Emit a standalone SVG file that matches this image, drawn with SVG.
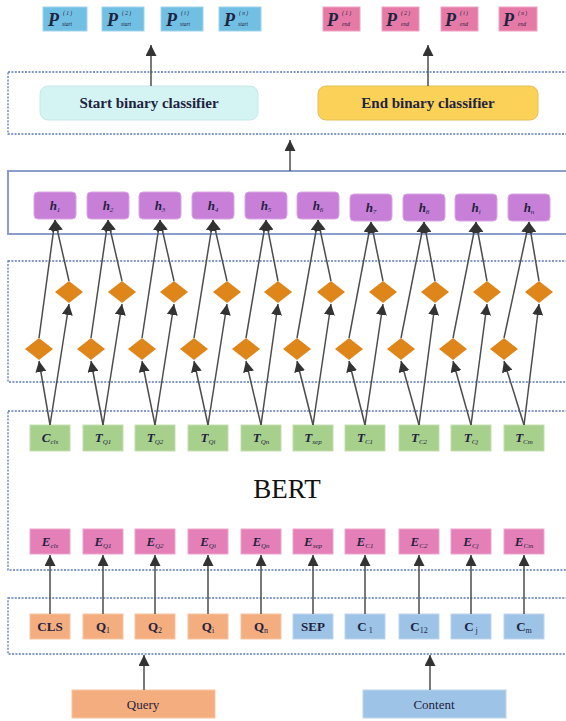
<svg xmlns="http://www.w3.org/2000/svg" width="566" height="721" viewBox="0 0 566 721">
  <style>
    .band { fill: none; stroke: #5a78b8; stroke-width: 1.3; stroke-dasharray: 2 1.4; }
    .bandSolid { fill: none; stroke: #8a9dcb; stroke-width: 2; }
    .pStart { fill: #72bfe4; stroke: #9fd3ec; stroke-width: 1; }
    .pEnd { fill: #e57aa6; stroke: #eea2c2; stroke-width: 1; }
    .hBox { fill: #c77fd8; stroke: #d9a6e4; stroke-width: 1; }
    .tBox { fill: #a7d08c; stroke: #c2dfae; stroke-width: 1; }
    .eBox { fill: #e57fb8; stroke: #eda5cc; stroke-width: 1; }
    .qBox { fill: #f4ad7e; stroke: #f6c4a2; stroke-width: 1; }
    .cBox { fill: #9dc3e6; stroke: #bcd6ee; stroke-width: 1; }
    .dia { fill: #df861a; }
    .lbl { font-family: "Liberation Serif", "Times New Roman", serif; fill: #1f2340; }
    .it { font-style: italic; font-weight: bold; font-size: 13px; }
    .sub { font-style: italic; font-size: 7px; font-weight: normal; }
    .pl { font-style: italic; font-weight: bold; font-size: 18px; }
    .tiny { font-style: italic; font-size: 5.5px; }
    .cls { font-weight: bold; font-size: 15px; }
    .inp { font-weight: bold; font-size: 13px; }
    .nsub { font-size: 8px; font-weight: normal; }
    .src { font-size: 13px; }
    .bert { font-family: "Liberation Serif", "Times New Roman", serif; font-size: 27px; fill: #111; }
    .wire { stroke: #4d4d4d; stroke-width: 1.5; fill: none; marker-end: url(#head); }
  </style>
  <defs>
    <marker id="head" markerUnits="userSpaceOnUse" markerWidth="11" markerHeight="11" viewBox="0 0 10 10" refX="10" refY="5" orient="auto">
      <path d="M0,0 L10,5 L0,10 z" fill="#333"/>
    </marker>
  </defs>

  <!-- layer frames -->
  <g id="frames">
    <rect class="band" x="8" y="72" width="570" height="62"/>
    <rect class="bandSolid" x="8" y="171" width="570" height="63"/>
    <rect class="band" x="8" y="261" width="570" height="121"/>
    <rect class="band" x="8" y="411" width="570" height="159"/>
    <rect class="band" x="8" y="598" width="570" height="56"/>
  </g>

  <!-- start probabilities -->
  <g id="p-start">
    <rect class="pStart" x="43" y="7" width="44" height="24"/>
    <rect class="pStart" x="102" y="7" width="42" height="24"/>
    <rect class="pStart" x="161" y="7" width="42" height="24"/>
    <rect class="pStart" x="219" y="7" width="42" height="24"/>
    <g class="lbl">
      <text class="pl" x="48" y="26">P</text><text class="tiny" x="63" y="15">( 1 )</text><text class="tiny" x="62" y="26">start</text>
      <text class="pl" x="107" y="26">P</text><text class="tiny" x="122" y="15">( 2 )</text><text class="tiny" x="121" y="26">start</text>
      <text class="pl" x="166" y="26">P</text><text class="tiny" x="181" y="15">( i )</text><text class="tiny" x="180" y="26">start</text>
      <text class="pl" x="224" y="26">P</text><text class="tiny" x="239" y="15">( n )</text><text class="tiny" x="238" y="26">start</text>
    </g>
  </g>

  <!-- end probabilities -->
  <g id="p-end">
    <rect class="pEnd" x="323" y="7" width="37" height="24"/>
    <rect class="pEnd" x="382" y="7" width="37" height="24"/>
    <rect class="pEnd" x="441" y="7" width="37" height="24"/>
    <rect class="pEnd" x="499" y="7" width="38" height="24"/>
    <g class="lbl">
      <text class="pl" x="327" y="26">P</text><text class="tiny" x="342" y="15">( 1 )</text><text class="tiny" x="342" y="26">end</text>
      <text class="pl" x="386" y="26">P</text><text class="tiny" x="401" y="15">( 2 )</text><text class="tiny" x="401" y="26">end</text>
      <text class="pl" x="445" y="26">P</text><text class="tiny" x="460" y="15">( i )</text><text class="tiny" x="460" y="26">end</text>
      <text class="pl" x="503" y="26">P</text><text class="tiny" x="518" y="15">( n )</text><text class="tiny" x="518" y="26">end</text>
    </g>
  </g>

  <!-- classifiers -->
  <g id="start-classifier">
    <rect x="40" y="86" width="218" height="34" rx="8" fill="#d4f3f3" stroke="#c6e8e8"/>
    <text class="lbl cls" x="149" y="108" text-anchor="middle">Start binary classifier</text>
  </g>
  <g id="end-classifier">
    <rect x="318" y="86" width="220" height="34" rx="8" fill="#fbd257" stroke="#e3bf55"/>
    <text class="lbl cls" x="428" y="108" text-anchor="middle">End binary classifier</text>
  </g>

  <!-- hidden states -->
  <g id="hidden">
    <rect class="hBox" x="34" y="192" width="42" height="27" rx="4"/>
    <rect class="hBox" x="87" y="192" width="42" height="27" rx="4"/>
    <rect class="hBox" x="139" y="192" width="42" height="27" rx="4"/>
    <rect class="hBox" x="192" y="192" width="42" height="27" rx="4"/>
    <rect class="hBox" x="245" y="192" width="42" height="27" rx="4"/>
    <rect class="hBox" x="297" y="192" width="42" height="27" rx="4"/>
    <rect class="hBox" x="350" y="194" width="42" height="27" rx="4"/>
    <rect class="hBox" x="403" y="194" width="42" height="27" rx="4"/>
    <rect class="hBox" x="455" y="194" width="42" height="27" rx="4"/>
    <rect class="hBox" x="508" y="194" width="42" height="27" rx="4"/>
    <g class="lbl" text-anchor="middle">
      <text x="55" y="210"><tspan class="it">h</tspan><tspan class="sub" dy="2">1</tspan></text>
      <text x="108" y="210"><tspan class="it">h</tspan><tspan class="sub" dy="2">2</tspan></text>
      <text x="160" y="210"><tspan class="it">h</tspan><tspan class="sub" dy="2">3</tspan></text>
      <text x="213" y="210"><tspan class="it">h</tspan><tspan class="sub" dy="2">4</tspan></text>
      <text x="266" y="210"><tspan class="it">h</tspan><tspan class="sub" dy="2">5</tspan></text>
      <text x="318" y="210"><tspan class="it">h</tspan><tspan class="sub" dy="2">6</tspan></text>
      <text x="371" y="212"><tspan class="it">h</tspan><tspan class="sub" dy="2">7</tspan></text>
      <text x="424" y="212"><tspan class="it">h</tspan><tspan class="sub" dy="2">8</tspan></text>
      <text x="476" y="212"><tspan class="it">h</tspan><tspan class="sub" dy="2">i</tspan></text>
      <text x="529" y="212"><tspan class="it">h</tspan><tspan class="sub" dy="2">n</tspan></text>
    </g>
  </g>

  <!-- recurrent cells -->
  <g id="cells">
    <g id="cells-backward">
      <path class="dia" d="M55,292 L69,281 L83,292 L69,303 z"/>
      <path class="dia" d="M108,292 L122,281 L136,292 L122,303 z"/>
      <path class="dia" d="M160,292 L174,281 L188,292 L174,303 z"/>
      <path class="dia" d="M213,292 L227,281 L241,292 L227,303 z"/>
      <path class="dia" d="M264,292 L278,281 L292,292 L278,303 z"/>
      <path class="dia" d="M317,292 L331,281 L345,292 L331,303 z"/>
      <path class="dia" d="M369,292 L383,281 L397,292 L383,303 z"/>
      <path class="dia" d="M421,292 L435,281 L449,292 L435,303 z"/>
      <path class="dia" d="M473,292 L487,281 L501,292 L487,303 z"/>
      <path class="dia" d="M525,292 L539,281 L553,292 L539,303 z"/>
    </g>
    <g id="cells-forward">
      <path class="dia" d="M25,349 L39,338 L53,349 L39,360 z"/>
      <path class="dia" d="M77,349 L91,338 L105,349 L91,360 z"/>
      <path class="dia" d="M128,349 L142,338 L156,349 L142,360 z"/>
      <path class="dia" d="M180,349 L194,338 L208,349 L194,360 z"/>
      <path class="dia" d="M232,349 L246,338 L260,349 L246,360 z"/>
      <path class="dia" d="M283,349 L297,338 L311,349 L297,360 z"/>
      <path class="dia" d="M335,349 L349,338 L363,349 L349,360 z"/>
      <path class="dia" d="M387,349 L401,338 L415,349 L401,360 z"/>
      <path class="dia" d="M439,349 L453,338 L467,349 L453,360 z"/>
      <path class="dia" d="M490,349 L504,338 L518,349 L504,360 z"/>
    </g>
  </g>

  <!-- token outputs -->
  <g id="token-outputs">
    <rect class="tBox" x="30" y="425" width="40" height="26"/>
    <rect class="tBox" x="83" y="425" width="40" height="26"/>
    <rect class="tBox" x="135" y="425" width="40" height="26"/>
    <rect class="tBox" x="188" y="425" width="40" height="26"/>
    <rect class="tBox" x="241" y="425" width="40" height="26"/>
    <rect class="tBox" x="293" y="425" width="40" height="26"/>
    <rect class="tBox" x="345" y="425" width="40" height="26"/>
    <rect class="tBox" x="399" y="425" width="40" height="26"/>
    <rect class="tBox" x="451" y="425" width="40" height="26"/>
    <rect class="tBox" x="504" y="425" width="40" height="26"/>
    <g class="lbl" text-anchor="middle">
      <text x="50" y="442"><tspan class="it">C</tspan><tspan class="sub" dy="2">cls</tspan></text>
      <text x="103" y="442"><tspan class="it">T</tspan><tspan class="sub" dy="2">Q1</tspan></text>
      <text x="155" y="442"><tspan class="it">T</tspan><tspan class="sub" dy="2">Q2</tspan></text>
      <text x="208" y="442"><tspan class="it">T</tspan><tspan class="sub" dy="2">Qi</tspan></text>
      <text x="261" y="442"><tspan class="it">T</tspan><tspan class="sub" dy="2">Qn</tspan></text>
      <text x="313" y="442"><tspan class="it">T</tspan><tspan class="sub" dy="2">sep</tspan></text>
      <text x="365" y="442"><tspan class="it">T</tspan><tspan class="sub" dy="2">C1</tspan></text>
      <text x="419" y="442"><tspan class="it">T</tspan><tspan class="sub" dy="2">C2</tspan></text>
      <text x="471" y="442"><tspan class="it">T</tspan><tspan class="sub" dy="2">Cj</tspan></text>
      <text x="524" y="442"><tspan class="it">T</tspan><tspan class="sub" dy="2">Cm</tspan></text>
    </g>
  </g>

  <g id="bert">
    <text class="bert" x="287" y="498" text-anchor="middle">BERT</text>
  </g>

  <!-- embeddings -->
  <g id="embeddings">
    <rect class="eBox" x="30" y="529" width="40" height="25"/>
    <rect class="eBox" x="83" y="529" width="40" height="25"/>
    <rect class="eBox" x="135" y="529" width="40" height="25"/>
    <rect class="eBox" x="188" y="529" width="40" height="25"/>
    <rect class="eBox" x="241" y="529" width="40" height="25"/>
    <rect class="eBox" x="293" y="529" width="40" height="25"/>
    <rect class="eBox" x="345" y="529" width="40" height="25"/>
    <rect class="eBox" x="399" y="529" width="40" height="25"/>
    <rect class="eBox" x="451" y="529" width="40" height="25"/>
    <rect class="eBox" x="504" y="529" width="40" height="25"/>
    <g class="lbl" text-anchor="middle">
      <text x="50" y="546"><tspan class="it">E</tspan><tspan class="sub" dy="2">cls</tspan></text>
      <text x="103" y="546"><tspan class="it">E</tspan><tspan class="sub" dy="2">Q1</tspan></text>
      <text x="155" y="546"><tspan class="it">E</tspan><tspan class="sub" dy="2">Q2</tspan></text>
      <text x="208" y="546"><tspan class="it">E</tspan><tspan class="sub" dy="2">Qi</tspan></text>
      <text x="261" y="546"><tspan class="it">E</tspan><tspan class="sub" dy="2">Qn</tspan></text>
      <text x="313" y="546"><tspan class="it">E</tspan><tspan class="sub" dy="2">sep</tspan></text>
      <text x="365" y="546"><tspan class="it">E</tspan><tspan class="sub" dy="2">C1</tspan></text>
      <text x="419" y="546"><tspan class="it">E</tspan><tspan class="sub" dy="2">C2</tspan></text>
      <text x="471" y="546"><tspan class="it">E</tspan><tspan class="sub" dy="2">Cj</tspan></text>
      <text x="524" y="546"><tspan class="it">E</tspan><tspan class="sub" dy="2">Cm</tspan></text>
    </g>
  </g>

  <!-- input tokens -->
  <g id="tokens">
    <rect class="qBox" x="30" y="614" width="40" height="25"/>
    <rect class="qBox" x="83" y="614" width="40" height="25"/>
    <rect class="qBox" x="135" y="614" width="40" height="25"/>
    <rect class="qBox" x="188" y="614" width="40" height="25"/>
    <rect class="qBox" x="241" y="614" width="40" height="25"/>
    <rect class="cBox" x="293" y="614" width="40" height="25"/>
    <rect class="cBox" x="345" y="614" width="40" height="25"/>
    <rect class="cBox" x="399" y="614" width="40" height="25"/>
    <rect class="cBox" x="451" y="614" width="40" height="25"/>
    <rect class="cBox" x="504" y="614" width="40" height="25"/>
    <g class="lbl" text-anchor="middle">
      <text class="inp" x="50" y="631">CLS</text>
      <text x="103" y="631"><tspan class="inp">Q</tspan><tspan class="nsub" dy="2">1</tspan></text>
      <text x="155" y="631"><tspan class="inp">Q</tspan><tspan class="nsub" dy="2">2</tspan></text>
      <text x="208" y="631"><tspan class="inp">Q</tspan><tspan class="nsub" dy="2">i</tspan></text>
      <text x="261" y="631"><tspan class="inp">Q</tspan><tspan class="nsub" dy="2">n</tspan></text>
      <text class="inp" x="313" y="631">SEP</text>
      <text x="365" y="631"><tspan class="inp">C</tspan><tspan class="nsub" dy="2"> 1</tspan></text>
      <text x="419" y="631"><tspan class="inp">C</tspan><tspan class="nsub" dy="2">12</tspan></text>
      <text x="471" y="631"><tspan class="inp">C</tspan><tspan class="nsub" dy="2"> j</tspan></text>
      <text x="524" y="631"><tspan class="inp">C</tspan><tspan class="nsub" dy="2">m</tspan></text>
    </g>
  </g>

  <g id="query">
    <rect class="qBox" x="72" y="690" width="143" height="28"/>
    <text class="lbl src" x="143" y="709" text-anchor="middle">Query</text>
  </g>
  <g id="content">
    <rect class="cBox" x="363" y="690" width="143" height="28"/>
    <text class="lbl src" x="434" y="709" text-anchor="middle">Content</text>
  </g>

  <!-- connectors -->
  <g id="connectors">
    <line class="wire" x1="151" y1="86" x2="151" y2="45"/>
    <line class="wire" x1="428" y1="86" x2="428" y2="45"/>
    <line class="wire" x1="290" y1="171" x2="290" y2="140"/>

    <!-- token output to forward / backward cells -->
    <line class="wire" x1="50" y1="425" x2="39" y2="361"/>
    <line class="wire" x1="50" y1="425" x2="69" y2="304"/>
    <line class="wire" x1="103" y1="425" x2="91" y2="361"/>
    <line class="wire" x1="103" y1="425" x2="122" y2="304"/>
    <line class="wire" x1="155" y1="425" x2="142" y2="361"/>
    <line class="wire" x1="155" y1="425" x2="174" y2="304"/>
    <line class="wire" x1="208" y1="425" x2="194" y2="361"/>
    <line class="wire" x1="208" y1="425" x2="227" y2="304"/>
    <line class="wire" x1="261" y1="425" x2="246" y2="361"/>
    <line class="wire" x1="261" y1="425" x2="278" y2="304"/>
    <line class="wire" x1="313" y1="425" x2="297" y2="361"/>
    <line class="wire" x1="313" y1="425" x2="331" y2="304"/>
    <line class="wire" x1="365" y1="425" x2="349" y2="361"/>
    <line class="wire" x1="365" y1="425" x2="383" y2="304"/>
    <line class="wire" x1="419" y1="425" x2="401" y2="361"/>
    <line class="wire" x1="419" y1="425" x2="435" y2="304"/>
    <line class="wire" x1="471" y1="425" x2="453" y2="361"/>
    <line class="wire" x1="471" y1="425" x2="487" y2="304"/>
    <line class="wire" x1="524" y1="425" x2="504" y2="361"/>
    <line class="wire" x1="524" y1="425" x2="539" y2="304"/>

    <!-- cells to hidden states -->
    <line class="wire" x1="39" y1="338" x2="55" y2="220"/>
    <line class="wire" x1="69" y1="281" x2="55" y2="220"/>
    <line class="wire" x1="91" y1="338" x2="108" y2="220"/>
    <line class="wire" x1="122" y1="281" x2="108" y2="220"/>
    <line class="wire" x1="142" y1="338" x2="160" y2="220"/>
    <line class="wire" x1="174" y1="281" x2="160" y2="220"/>
    <line class="wire" x1="194" y1="338" x2="213" y2="220"/>
    <line class="wire" x1="227" y1="281" x2="213" y2="220"/>
    <line class="wire" x1="246" y1="338" x2="266" y2="220"/>
    <line class="wire" x1="278" y1="281" x2="266" y2="220"/>
    <line class="wire" x1="297" y1="338" x2="318" y2="220"/>
    <line class="wire" x1="331" y1="281" x2="318" y2="220"/>
    <line class="wire" x1="349" y1="338" x2="371" y2="222"/>
    <line class="wire" x1="383" y1="281" x2="371" y2="222"/>
    <line class="wire" x1="401" y1="338" x2="424" y2="222"/>
    <line class="wire" x1="435" y1="281" x2="424" y2="222"/>
    <line class="wire" x1="453" y1="338" x2="476" y2="222"/>
    <line class="wire" x1="487" y1="281" x2="476" y2="222"/>
    <line class="wire" x1="504" y1="338" x2="529" y2="222"/>
    <line class="wire" x1="539" y1="281" x2="529" y2="222"/>

    <!-- tokens to embeddings -->
    <line class="wire" x1="50" y1="614" x2="50" y2="555"/>
    <line class="wire" x1="103" y1="614" x2="103" y2="555"/>
    <line class="wire" x1="155" y1="614" x2="155" y2="555"/>
    <line class="wire" x1="208" y1="614" x2="208" y2="555"/>
    <line class="wire" x1="261" y1="614" x2="261" y2="555"/>
    <line class="wire" x1="313" y1="614" x2="313" y2="555"/>
    <line class="wire" x1="365" y1="614" x2="365" y2="555"/>
    <line class="wire" x1="419" y1="614" x2="419" y2="555"/>
    <line class="wire" x1="471" y1="614" x2="471" y2="555"/>
    <line class="wire" x1="524" y1="614" x2="524" y2="555"/>

    <line class="wire" x1="144" y1="690" x2="144" y2="655"/>
    <line class="wire" x1="430" y1="690" x2="430" y2="655"/>
  </g>
</svg>
